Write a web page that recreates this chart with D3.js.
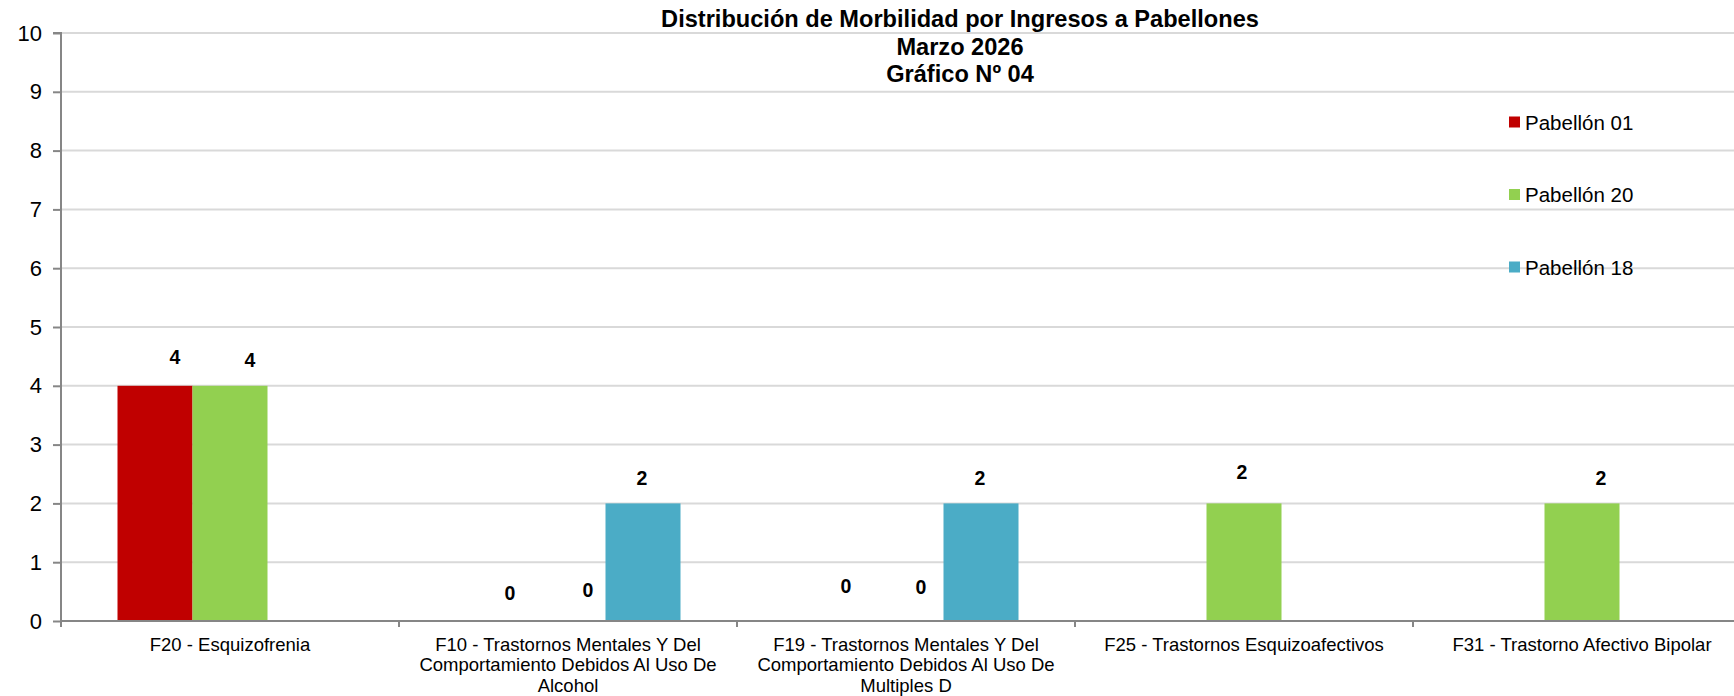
<!DOCTYPE html>
<html>
<head>
<meta charset="utf-8">
<script src="https://cdn.jsdelivr.net/npm/d3@7/dist/d3.min.js"></script>
<style>
  html, body { margin: 0; padding: 0; background: #ffffff; }
  svg { display: block; font-family: "Liberation Sans", Arial, sans-serif; }
</style>
</head>
<body>
<svg id="chart" width="1734" height="696"></svg>
<script>
// ---------- data ----------
const titleLines = ["Distribución de Morbilidad por Ingresos a Pabellones", "Marzo 2026", "Gráfico Nº 04"];
const categories = [
  "F20 - Esquizofrenia",
  "F10 - Trastornos Mentales Y Del Comportamiento Debidos Al Uso De Alcohol",
  "F19 - Trastornos Mentales Y Del Comportamiento Debidos Al Uso De Multiples D",
  "F25 - Trastornos Esquizoafectivos",
  "F31 - Trastorno Afectivo Bipolar"
];
const seriesNames = ["Pabellón 01", "Pabellón 20", "Pabellón 18"];
const pabellon01 = [4, 0, 0, null, null];
const pabellon20 = [4, 0, 0, 2, 2];
const pabellon18 = [null, 2, 2, null, null];
const yTicks = [0, 1, 2, 3, 4, 5, 6, 7, 8, 9, 10];

// ---------- styles / layout ----------
const colors = ["#C00000", "#92D050", "#4BACC6"];
const seriesValues = [pabellon01, pabellon20, pabellon18];
// label nudges (dx, gap above bar top) per series per category
const labelNudge = [
  [[20, 29], [17, 28], [15, 35], [0, 0], [0, 0]],
  [[20, 26], [20, 31], [15, 34], [-2, 31], [19, 25]],
  [[0, 0], [-1, 25], [-1, 25], [0, 0], [0, 0]]
];

const svg = d3.select("#chart");
const pLeft = 61, pRight = 1751, pTop = 33, pBottom = 621;

const x0 = d3.scaleBand().domain(categories).range([pLeft, pRight]).paddingInner(0).paddingOuter(0);
const barW = x0.bandwidth() * 225 / 338 / 3;
const groupOffset = (x0.bandwidth() - barW * 3) / 2;

const y = d3.scaleLinear().domain([0, 10]).range([pBottom, pTop]);

// gridlines
svg.append("g")
  .selectAll("line")
  .data(yTicks.filter(d => d > 0))
  .join("line")
  .attr("x1", pLeft).attr("x2", pRight)
  .attr("y1", d => y(d)).attr("y2", d => y(d))
  .attr("stroke", "#D9D9D9").attr("stroke-width", 2);

// bars
const barsG = svg.append("g");
seriesValues.forEach((vals, s) => {
  barsG.selectAll(null)
    .data(categories.map((c, i) => ({ c, i, v: vals[i] })).filter(d => d.v !== null && d.v > 0))
    .join("rect")
    .attr("x", d => x0(d.c) + groupOffset + s * barW)
    .attr("width", barW)
    .attr("y", d => y(d.v))
    .attr("height", d => y(0) - y(d.v))
    .attr("fill", colors[s]);
});

// y axis
const yAxis = d3.axisLeft(y).tickValues(yTicks).tickSize(8).tickPadding(11).tickFormat(d3.format("d"));
const yg = svg.append("g").attr("transform", `translate(${pLeft},0)`).call(yAxis);
yg.select(".domain").attr("stroke", "#868686").attr("stroke-width", 2).attr("d", `M-8,${pTop}H0V${pBottom + 6}`);
yg.selectAll(".tick line").attr("stroke", "#868686").attr("stroke-width", 2);
yg.selectAll(".tick text").attr("font-size", 22).attr("fill", "#000").attr("font-family", "Liberation Sans, Arial, sans-serif");

// x axis
const xAxis = d3.axisBottom(x0).tickSize(0).tickFormat("");
const xg = svg.append("g").attr("transform", `translate(0,${pBottom})`).call(xAxis);
xg.select(".domain").attr("stroke", "#868686").attr("stroke-width", 2).attr("d", `M${pLeft},0H${pRight}`);
xg.selectAll(".tick").remove();
xg.selectAll("line.bt")
  .data(d3.range(categories.length + 1))
  .join("line")
  .attr("class", "bt")
  .attr("x1", i => pLeft + i * x0.step()).attr("x2", i => pLeft + i * x0.step())
  .attr("y1", 0).attr("y2", 6)
  .attr("stroke", "#868686").attr("stroke-width", 2);

// category labels with wrapping
const maxW = 320, lineH = 20.3;
const measure = svg.append("text").attr("font-size", 18.5).attr("visibility", "hidden");
function wrap(text) {
  const words = text.split(" ");
  const lines = [];
  let cur = "";
  words.forEach(w => {
    const t = cur ? cur + " " + w : w;
    measure.text(t);
    if (measure.node().getComputedTextLength() > maxW && cur) {
      lines.push(cur); cur = w;
    } else cur = t;
  });
  if (cur) lines.push(cur);
  return lines;
}
categories.forEach(c => {
  const lines = wrap(c);
  const cx = x0(c) + x0.bandwidth() / 2;
  const t = svg.append("text")
    .attr("x", cx)
    .attr("y", pBottom + 30)
    .attr("text-anchor", "middle")
    .attr("font-size", 18.5)
    .attr("fill", "#000");
  lines.forEach((ln, k) => {
    t.append("tspan").attr("x", cx).attr("dy", k === 0 ? 0 : lineH).text(ln);
  });
});
measure.remove();

// data labels
seriesValues.forEach((vals, s) => {
  vals.forEach((v, i) => {
    if (v === null) return;
    const cx = x0(categories[i]) + groupOffset + s * barW + barW / 2 + labelNudge[s][i][0];
    const cy = y(v) - labelNudge[s][i][1];
    svg.append("text")
      .attr("x", cx).attr("y", cy)
      .attr("text-anchor", "middle")
      .attr("dominant-baseline", "central")
      .attr("font-size", 19.5)
      .attr("font-weight", "bold")
      .attr("fill", "#000")
      .text(d3.format("d")(v));
  });
});

// title
const title = svg.append("text")
  .attr("x", 960).attr("y", 27)
  .attr("text-anchor", "middle")
  .attr("font-size", 23.6)
  .attr("font-weight", "bold")
  .attr("fill", "#000");
titleLines.forEach((ln, k) => {
  title.append("tspan").attr("x", 960).attr("dy", k === 0 ? 0 : 27.5).text(ln);
});

// legend
const legend = svg.append("g").attr("transform", "translate(1509,122)");
seriesNames.forEach((n, s) => {
  const g = legend.append("g").attr("transform", `translate(0,${s * 72.5})`);
  g.append("rect").attr("x", 0).attr("y", -5.5).attr("width", 11).attr("height", 11).attr("fill", colors[s]);
  g.append("text").attr("x", 16).attr("y", 0).attr("dominant-baseline", "central")
    .attr("font-size", 20.5).attr("fill", "#000").text(n);
});
</script>
</body>
</html>
